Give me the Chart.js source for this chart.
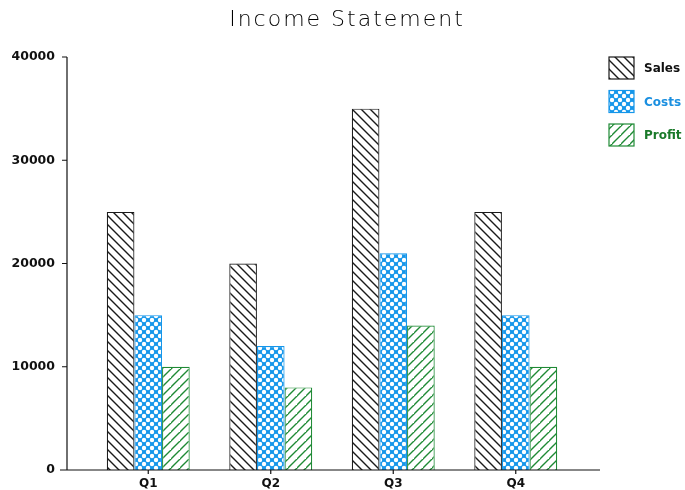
<!DOCTYPE html>
<html>
<head>
<meta charset="utf-8">
<script src="https://cdn.jsdelivr.net/npm/chart.js@4"></script>
<style>
html,body{margin:0;padding:0;background:#fff;}
#wrap{width:685px;height:490px;}
</style>
</head>
<body>
<div id="wrap"><canvas id="c" width="685" height="490"></canvas></div>
<script>
const categories = ['Q1', 'Q2', 'Q3', 'Q4'];
const seriesNames = ['Sales', 'Costs', 'Profit'];
const sales = [25000, 20000, 35000, 25000];
const costs = [15000, 12000, 21000, 15000];
const profit = [10000, 8000, 14000, 10000];
const yTicks = [0, 10000, 20000, 30000, 40000];
const titleText = 'Income Statement';

const BLACK = '#1a1a1a', BLUE = '#1596ea', GREEN = '#1f8a35';

function hatch(color, dir) {
  const s = 9;
  const c = document.createElement('canvas');
  c.width = s; c.height = s;
  const g = c.getContext('2d');
  g.fillStyle = '#fff'; g.fillRect(0, 0, s, s);
  g.strokeStyle = color; g.lineWidth = 1.4;
  g.beginPath();
  if (dir > 0) {
    g.moveTo(-1, s + 1); g.lineTo(s + 1, -1);
    g.moveTo(-1 - s, s + 1); g.lineTo(1, -1);
    g.moveTo(s - 1, 2 * s + 1); g.lineTo(2 * s + 1, s - 1);
  } else {
    g.moveTo(-1, -1); g.lineTo(s + 1, s + 1);
    g.moveTo(-1 - s, -1); g.lineTo(1, s + 1);
    g.moveTo(s - 1, -1); g.lineTo(2 * s + 1, s + 1);
  }
  g.stroke();
  return g.createPattern(c, 'repeat');
}
function dots(color) {
  const s = 8, r = 2.2;
  const c = document.createElement('canvas');
  c.width = s; c.height = s;
  const g = c.getContext('2d');
  g.fillStyle = color; g.fillRect(0, 0, s, s);
  g.fillStyle = '#fff';
  [[s/2, s/2],[0,0],[s,0],[0,s],[s,s]].forEach(p => { g.beginPath(); g.arc(p[0], p[1], r, 0, Math.PI * 2); g.fill(); });
  return g.createPattern(c, 'repeat');
}

const fills = [hatch(BLACK, -1), dots(BLUE), hatch(GREEN, 1)];
const borders = [BLACK, BLUE, GREEN];
const labelColors = ['#111', '#1a8fe0', '#1a7a2a'];
const values = [sales, costs, profit];

const axesPlugin = {
  id: 'axesPlugin',
  afterDatasetsDraw(chart) {
    const ctx = chart.ctx, a = chart.chartArea;
    const y = chart.scales.y, x = chart.scales.x;
    const ax = a.left - 20;
    ctx.save();
    ctx.fillStyle = '#000';
    ctx.font = '200 22px "DejaVu Sans"';
    ctx.letterSpacing = '2px';
    ctx.textAlign = 'center'; ctx.textBaseline = 'middle';
    ctx.fillText(titleText, 347, 20);
    ctx.letterSpacing = '0px';
    ctx.strokeStyle = '#111'; ctx.lineWidth = 1.2;
    ctx.beginPath();
    ctx.moveTo(ax, y.getPixelForValue(40000)); ctx.lineTo(ax, a.bottom);
    yTicks.forEach(v => { const py = y.getPixelForValue(v); ctx.moveTo(ax - 5, py); ctx.lineTo(ax, py); });
    ctx.moveTo(a.left - 27, a.bottom); ctx.lineTo(a.right + 23, a.bottom);
    categories.forEach((c, i) => { const px = x.getPixelForValue(i); ctx.moveTo(px, a.bottom); ctx.lineTo(px, a.bottom + 4); });
    ctx.stroke();
    const lx = 609, ly0 = 57, step = 33.5, bw = 25, bh = 22;
    chart.data.datasets.forEach((ds, i) => {
      const by = ly0 + i * step;
      ctx.fillStyle = ds.backgroundColor;
      ctx.fillRect(lx, by, bw, bh);
      ctx.strokeStyle = ds.borderColor; ctx.lineWidth = 1.2;
      ctx.strokeRect(lx, by, bw, bh);
      ctx.fillStyle = labelColors[i];
      ctx.font = 'bold 12px "DejaVu Sans"';
      ctx.textBaseline = 'middle'; ctx.textAlign = 'left';
      ctx.fillText(ds.label, 644, by + bh / 2 + 1);
    });
    ctx.restore();
  }
};

new Chart(document.getElementById('c'), {
  type: 'bar',
  data: {
    labels: categories,
    datasets: seriesNames.map((n, i) => ({
      label: n, data: values[i],
      backgroundColor: fills[i], borderColor: borders[i], borderWidth: 1.2,
      categoryPercentage: 0.677, barPercentage: 1.0
    }))
  },
  options: {
    responsive: false, animation: false,
    layout: { padding: { top: 57, right: 108, bottom: 0, left: 0 } },
    plugins: { legend: { display: false }, tooltip: { enabled: false }, title: { display: false } },
    scales: {
      x: {
        grid: { display: false, drawTicks: false }, border: { display: false },
        ticks: { color: '#111', font: { family: 'DejaVu Sans', size: 12, weight: 'bold' }, padding: 7 },
        afterFit(s) { s.height = 20; }
      },
      y: {
        min: 0, max: 40000,
        afterBuildTicks(s) { s.ticks = yTicks.map(v => ({ value: v })); },
        grid: { display: false, drawTicks: false }, border: { display: false },
        ticks: { color: '#111', font: { family: 'DejaVu Sans', size: 12.5, weight: 'bold' }, padding: 32,
                 callback: v => String(v) },
        afterFit(s) { s.width = 87; s.paddingTop = 0; s.paddingBottom = 0; }
      }
    }
  },
  plugins: [axesPlugin]
});
</script>
</body>
</html>
